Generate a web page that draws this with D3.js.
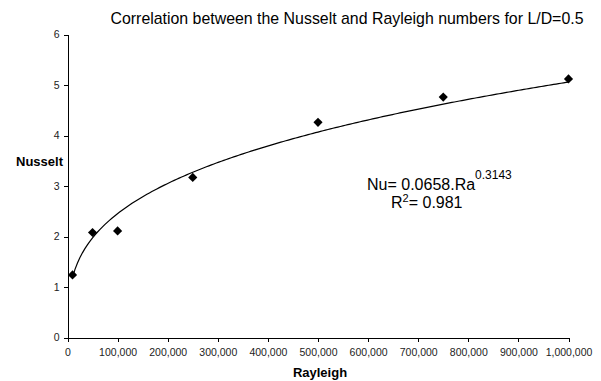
<!DOCTYPE html>
<html lang="en">
<head>
<meta charset="UTF-8">
<title>Nusselt vs Rayleigh</title>
<script src="https://cdn.jsdelivr.net/npm/d3@7/dist/d3.min.js"></script>
<style>
  body { margin: 0; background: #fff; }
  svg { font-family: "Liberation Sans", Arial, sans-serif; }
  .tick text { fill: #222; font-size: 10.5px; }
  .axis path, .axis line { stroke: #000; shape-rendering: crispEdges; }
</style>
</head>
<body>
<svg id="chart" width="601" height="381"></svg>
<script>
// measured points
const rayleigh = [10000, 50000, 100000, 250000, 500000, 750000, 1000000];
const nusselt = [1.24, 2.08, 2.11, 3.17, 4.26, 4.76, 5.12];
const xTicks = [0, 100000, 200000, 300000, 400000, 500000, 600000, 700000, 800000, 900000, 1000000];
const yTicks = [0, 1, 2, 3, 4, 5, 6];
// power trendline shown on the chart
const fitCoef = 0.0658;
const fitExp = 0.3143;
const rSquared = 0.981;

const svg = d3.select("#chart");

const x = d3.scaleLinear().domain([0, 1000000]).range([67.5, 568.5]);
const y = d3.scaleLinear().domain([0, 6]).range([337.5, 34.5]);

svg.append("g")
    .attr("class", "axis")
    .attr("transform", `translate(0,${y(0)})`)
    .call(d3.axisBottom(x).tickValues(xTicks).tickSize(4).tickSizeOuter(4)
        .tickFormat(d3.format(",")))
    .call(g => g.selectAll(".tick text").attr("dy", "1.05em"));

svg.append("g")
    .attr("class", "axis")
    .attr("transform", `translate(${x(0)},0)`)
    .call(d3.axisLeft(y).tickValues(yTicks).tickSize(4).tickSizeOuter(0)
        .tickFormat(d3.format("d")))
    .call(g => g.selectAll(".tick text").attr("x", -8));

// trendline
const fitX = d3.range(0, 201).map(i => rayleigh[0] + (rayleigh[rayleigh.length - 1] - rayleigh[0]) * i / 200);
const line = d3.line()
    .x(d => x(d))
    .y(d => y(fitCoef * Math.pow(d, fitExp)));

svg.append("path")
    .datum(fitX)
    .attr("d", line)
    .attr("fill", "none")
    .attr("stroke", "#000")
    .attr("stroke-width", 1.2);

const diamond = d3.symbol().type(d3.symbolSquare).size(42);
svg.selectAll(".pt")
    .data(rayleigh)
    .enter().append("path")
    .attr("class", "pt")
    .attr("d", diamond)
    .attr("transform", (d, i) => `translate(${x(d)},${y(nusselt[i])}) rotate(45)`)
    .attr("fill", "#000");

svg.append("text")
    .attr("x", 347)
    .attr("y", 24)
    .attr("text-anchor", "middle")
    .attr("font-size", "15.9px")
    .text("Correlation between the Nusselt and Rayleigh numbers for L/D=0.5");

svg.append("text")
    .attr("x", 16)
    .attr("y", 166)
    .attr("font-size", "13px")
    .attr("font-weight", "bold")
    .text("Nusselt");

svg.append("text")
    .attr("x", 320)
    .attr("y", 377)
    .attr("text-anchor", "middle")
    .attr("font-size", "13px")
    .attr("font-weight", "bold")
    .text("Rayleigh");

const eq = svg.append("text")
    .attr("x", 367)
    .attr("y", 190)
    .attr("font-size", "16px");
eq.append("tspan").text(`Nu= ${fitCoef}.Ra`);
eq.append("tspan").attr("dy", -11).attr("font-size", "12px").text(fitExp);

const r2 = svg.append("text")
    .attr("x", 391)
    .attr("y", 208)
    .attr("font-size", "16px");
r2.append("tspan").text("R");
r2.append("tspan").attr("dy", -6).attr("font-size", "11px").text("2");
r2.append("tspan").attr("dy", 6).text(`= ${rSquared}`);
</script>
</body>
</html>
